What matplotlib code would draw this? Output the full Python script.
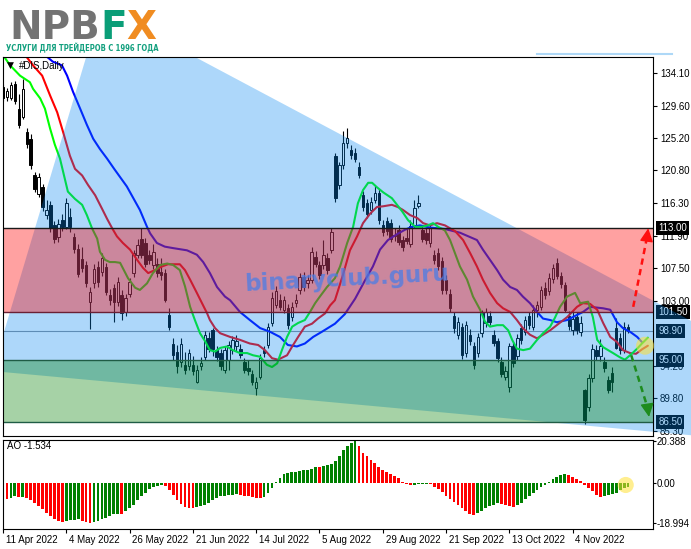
# -*- coding: utf-8 -*-
import matplotlib
matplotlib.use("Agg")
import numpy as np
import matplotlib.pyplot as plt
import matplotlib.transforms as mtransforms
from matplotlib.patches import Polygon, Rectangle
from matplotlib.lines import Line2D
from matplotlib import font_manager

# #DIS, Daily: 11 Apr 2022 .. 25 Nov 2022 (bar index 0..158)
date_ticks = [0, 16, 32, 48, 64, 80, 96, 112, 128, 144]
date_labels = ['11 Apr 2022', '4 May 2022', '26 May 2022', '21 Jun 2022',
               '14 Jul 2022', '5 Aug 2022', '29 Aug 2022', '21 Sep 2022',
               '13 Oct 2022', '4 Nov 2022']

opens = [132.1, 130.8, 130.6, 132.6, 129.2, 128.1, 126.0, 125.1, 120.1, 117.6,
         118.5, 114.7, 116.1, 113.4, 111.7, 114.0, 113.1, 114.4, 111.7, 110.1,
         108.7, 107.9, 102.9, 105.4, 107.6, 107.0, 107.6, 103.8, 104.7, 102.9,
         103.8, 101.5, 104.0, 106.8, 109.3, 111.5, 110.9, 109.2, 107.9, 108.1,
         107.0, 106.8, 101.1, 97.2, 96.1, 94.7, 94.3, 94.1, 94.3, 92.0,
         94.1, 95.4, 97.9, 99.0, 96.3, 95.9, 93.6, 95.0, 96.3, 96.8,
         96.5, 94.7, 93.9, 93.1, 91.1, 92.7, 96.3, 97.0, 100.0, 102.5,
         103.1, 101.8, 102.0, 100.8, 102.7, 104.5, 106.3, 105.4, 105.9, 109.0,
         107.9, 107.9, 108.8, 109.9, 122.7, 118.8, 121.5, 124.5, 123.6, 123.2,
         121.3, 117.4, 116.3, 115.4, 116.8, 117.7, 113.4, 113.9, 113.6, 111.8,
         112.7, 111.3, 111.6, 110.8, 113.4, 116.0, 112.7, 112.2, 110.9, 109.3,
         109.5, 108.5, 105.8, 104.0, 100.9, 98.4, 99.5, 95.9, 98.4, 96.8,
         95.9, 98.6, 100.0, 101.0, 98.4, 97.5, 94.7, 92.7, 91.3, 96.8,
         95.5, 99.3, 98.8, 100.9, 99.5, 101.8, 102.2, 104.7, 104.3, 106.0,
         108.2, 106.4, 105.2, 101.0, 99.0, 100.8, 98.8, 90.8, 88.5, 92.5,
         96.3, 95.5, 94.7, 92.2, 93.2, 99.3, 97.9, 96.3, 99.4]
highs = [132.6, 132.0, 132.9, 133.0, 131.2, 133.3, 126.6, 125.8, 120.6, 120.5,
         119.0, 116.8, 116.6, 113.9, 114.2, 114.8, 117.0, 115.6, 112.3, 110.8,
         110.3, 108.5, 104.9, 108.0, 108.4, 109.5, 108.2, 104.6, 105.3, 106.2,
         104.5, 104.0, 106.1, 110.0, 111.4, 112.9, 111.6, 110.0, 110.8, 108.8,
         108.8, 107.3, 102.1, 97.9, 97.0, 98.0, 96.0, 96.5, 95.5, 94.3,
         95.3, 98.9, 98.8, 99.3, 96.9, 96.4, 96.9, 97.6, 98.2, 98.3,
         97.2, 95.2, 94.9, 93.6, 92.6, 95.8, 96.9, 100.0, 104.2, 105.0,
         104.0, 103.7, 102.6, 102.8, 104.0, 106.8, 107.0, 106.5, 110.3, 109.8,
         108.5, 111.3, 109.5, 113.0, 123.2, 122.0, 126.1, 126.5, 124.2, 123.8,
         121.9, 118.0, 116.9, 117.2, 118.6, 118.3, 114.0, 114.5, 114.2, 113.0,
         113.3, 111.9, 113.0, 114.0, 116.8, 117.4, 113.4, 113.0, 113.5, 110.0,
         110.2, 109.0, 106.6, 104.6, 101.5, 100.8, 100.0, 100.3, 99.2, 97.4,
         98.6, 101.8, 102.0, 101.6, 99.0, 98.0, 95.3, 94.2, 97.3, 97.4,
         98.5, 99.8, 101.0, 101.5, 102.4, 103.0, 105.0, 105.6, 106.8, 108.0,
         108.8, 106.9, 105.6, 101.6, 101.8, 101.5, 101.0, 91.0, 93.0, 97.2,
         97.0, 97.8, 95.3, 92.8, 94.0, 100.7, 98.6, 100.2, 99.9]
lows = [130.2, 130.3, 130.4, 129.9, 126.5, 127.8, 123.9, 121.0, 117.8, 117.2,
        115.3, 114.2, 112.4, 110.9, 111.0, 112.5, 112.8, 112.4, 109.5, 106.2,
        107.0, 104.9, 99.2, 104.8, 104.9, 106.4, 103.8, 102.5, 100.1, 102.3,
        100.4, 100.9, 103.5, 106.3, 108.8, 108.9, 107.6, 108.0, 107.3, 106.3,
        105.9, 102.8, 99.0, 95.0, 93.2, 94.0, 93.0, 93.6, 92.9, 91.8,
        93.6, 95.0, 96.0, 95.5, 94.8, 93.6, 93.2, 93.6, 95.8, 96.2,
        95.2, 93.2, 92.9, 91.5, 90.2, 92.3, 95.3, 96.6, 99.6, 102.0,
        101.7, 101.3, 99.2, 100.3, 102.2, 104.0, 104.4, 104.8, 105.5, 107.6,
        106.0, 107.4, 106.7, 109.5, 116.5, 118.2, 121.0, 123.9, 122.4, 121.9,
        119.7, 115.3, 114.3, 114.9, 116.3, 113.5, 111.9, 112.0, 111.0, 111.2,
        110.6, 109.8, 110.8, 110.3, 113.0, 115.7, 111.0, 110.8, 110.4, 108.1,
        107.2, 104.0, 103.9, 101.5, 98.6, 97.8, 95.1, 95.4, 97.0, 93.7,
        95.3, 98.1, 99.4, 99.7, 96.8, 94.7, 92.6, 92.2, 90.6, 94.0,
        95.0, 97.2, 98.3, 99.2, 99.0, 100.8, 101.8, 103.2, 103.8, 105.5,
        106.0, 104.8, 101.5, 99.0, 98.3, 98.5, 98.2, 86.3, 88.0, 92.0,
        95.0, 94.8, 93.3, 90.5, 90.6, 96.5, 95.8, 95.9, 98.6]
closes = [130.6, 131.6, 132.4, 130.3, 127.0, 131.9, 124.4, 121.5, 118.3, 119.9,
          115.8, 115.4, 112.9, 111.5, 113.5, 113.1, 116.3, 113.1, 110.1, 106.7,
          107.5, 105.4, 104.2, 107.4, 105.6, 108.8, 104.2, 103.1, 102.9, 105.6,
          101.3, 103.4, 105.6, 109.5, 110.6, 109.3, 108.1, 108.6, 109.7, 106.8,
          106.5, 103.1, 99.5, 95.6, 94.1, 97.2, 93.6, 95.9, 93.4, 93.6,
          94.5, 98.4, 96.5, 96.5, 95.4, 94.1, 96.3, 97.0, 97.7, 97.5,
          95.6, 93.6, 93.4, 92.0, 92.0, 95.2, 95.9, 99.5, 103.4, 104.3,
          102.2, 103.1, 99.7, 102.2, 103.1, 106.3, 104.9, 105.9, 109.7, 108.1,
          106.5, 109.3, 107.2, 112.4, 117.0, 121.5, 124.5, 125.2, 122.9, 122.4,
          120.2, 115.8, 114.9, 116.5, 117.7, 114.0, 112.4, 112.6, 111.5, 112.0,
          111.1, 110.4, 111.2, 113.2, 115.6, 116.4, 111.5, 111.3, 112.9, 108.6,
          107.7, 104.5, 104.5, 102.0, 99.3, 100.2, 95.6, 99.7, 97.5, 94.3,
          98.1, 101.3, 101.5, 100.2, 97.3, 95.2, 93.1, 93.4, 96.8, 94.5,
          98.0, 97.7, 100.4, 99.7, 101.8, 102.4, 104.5, 103.8, 106.1, 107.5,
          106.4, 105.3, 101.8, 99.6, 100.5, 99.0, 100.0, 86.8, 92.5, 96.5,
          95.5, 96.8, 93.8, 90.9, 91.9, 96.6, 96.3, 99.5, 98.9]

# Alligator lines: (bar position, price)
lips_pts = [(0, 136.5), (1.8, 135.1), (4.3, 133.7), (6.8, 132.8), (7.6, 131.9),
            (9.4, 130.6), (10.6, 129.2), (11.9, 126.5), (13.1, 124.3), (14.4, 122.4),
            (15.2, 120.6), (16.4, 117.9), (18.2, 116.9), (20.0, 116.1), (21.2, 114.7),
            (22.5, 112.9), (23.8, 111.5), (24.5, 109.7), (25.8, 108.6), (27.0, 108.3),
            (28.3, 108.3), (29.6, 108.2), (31.6, 106.1), (33.4, 104.8), (34.6, 104.5),
            (36.4, 105.4), (37.9, 106.8), (39.7, 107.9), (41.5, 108.1), (43.0, 107.9),
            (44.7, 107.2), (46.0, 105.0), (47.3, 102.2), (48.5, 100.4), (49.8, 98.6),
            (51.1, 97.5), (52.3, 96.3), (53.6, 96.1), (54.9, 96.6), (56.6, 96.8),
            (58.1, 96.3), (59.9, 95.9), (61.7, 95.9), (63.2, 95.6), (65.0, 95.4),
            (66.7, 94.3), (68.0, 94.0), (69.3, 94.5), (70.5, 96.3), (71.8, 98.1),
            (73.1, 99.5), (74.6, 100.0), (76.3, 100.4), (77.6, 101.5), (78.9, 102.7),
            (80.1, 103.6), (81.9, 104.9), (83.9, 106.1), (85.2, 107.7), (87.0, 110.9),
            (88.5, 113.1), (89.7, 116.3), (91.0, 118.1), (92.3, 119.1), (93.3, 119.1),
            (94.5, 118.5), (96.1, 117.8), (98.3, 117.0), (99.6, 116.1), (100.9, 115.2),
            (102.4, 114.0), (104.2, 113.1), (105.9, 113.1), (107.4, 113.3), (108.7, 113.6),
            (110.0, 113.1), (111.7, 112.6), (113.0, 111.3), (115.5, 107.7), (117.3, 105.9),
            (118.8, 103.6), (120.6, 101.8), (121.8, 100.2), (123.1, 99.5), (124.9, 99.7),
            (126.4, 99.7), (127.7, 99.0), (128.7, 97.7), (129.9, 96.5), (131.5, 96.3),
            (133.2, 96.5), (135.0, 97.7), (136.5, 98.6), (138.3, 99.5), (139.5, 100.7),
            (140.8, 102.2), (142.6, 103.6), (144.6, 104.1), (145.9, 102.7), (147.9, 102.9),
            (149.1, 100.8), (150.2, 97.7), (151.7, 96.7), (154.2, 95.9), (156.0, 95.3),
            (157.2, 95.0), (158.5, 95.6), (160.3, 96.5), (161.5, 97.2), (163.0, 98.0)]
teeth_pts = [(5.6, 136.5), (7.6, 135.1), (9.9, 133.7), (11.9, 131.0), (13.7, 128.7),
             (15.2, 126.0), (16.9, 122.8), (18.2, 121.0), (20.0, 120.1), (21.5, 118.8),
             (23.3, 117.4), (25.0, 115.6), (26.3, 114.2), (27.6, 112.9), (28.8, 111.8),
             (30.3, 110.9), (32.1, 110.0), (33.9, 108.6), (35.4, 107.5), (36.7, 106.8),
             (38.4, 107.2), (40.2, 107.7), (41.7, 108.0), (44.7, 108.0), (46.0, 107.2),
             (47.3, 105.9), (49.0, 104.1), (50.3, 102.7), (51.6, 101.3), (52.3, 100.4),
             (53.6, 99.3), (54.9, 98.6), (57.4, 98.1), (59.9, 97.7), (62.4, 97.2),
             (64.5, 97.0), (66.2, 96.3), (68.0, 95.2), (69.5, 95.0), (71.8, 95.6),
             (73.1, 96.8), (74.6, 98.1), (76.3, 99.5), (78.1, 99.9), (79.6, 100.6),
             (81.4, 101.3), (82.7, 102.4), (83.9, 103.1), (85.9, 106.5), (87.7, 109.9),
             (89.5, 111.8), (91.0, 113.6), (92.8, 114.9), (94.5, 115.8), (96.1, 115.9),
             (98.3, 116.1), (99.8, 115.8), (101.1, 115.4), (102.9, 114.7), (104.7, 114.3),
             (106.2, 113.6), (107.9, 113.3), (109.7, 113.6), (111.7, 113.3), (114.3, 112.5),
             (116.3, 111.3), (118.1, 109.5), (119.8, 107.7), (121.3, 105.9), (123.1, 104.1),
             (124.9, 102.7), (126.4, 102.0), (128.2, 101.5), (129.9, 100.4), (131.4, 99.3),
             (133.2, 98.4), (135.0, 97.9), (136.5, 98.4), (138.3, 99.0), (139.5, 99.5),
             (142.6, 100.8), (145.1, 102.2), (146.6, 102.7), (148.4, 102.6), (150.2, 101.8),
             (151.7, 100.0), (153.5, 98.1), (155.2, 97.4), (156.7, 96.3), (158.5, 95.9),
             (160.0, 95.8), (161.5, 96.4), (163.0, 96.9)]
jaw_pts = [(10.6, 136.5), (12.6, 135.6), (14.9, 135.1), (16.2, 133.7), (17.7, 131.5),
           (19.5, 129.2), (21.2, 127.0), (22.8, 125.1), (24.5, 123.7), (26.3, 122.4),
           (28.1, 121.0), (31.3, 118.6), (34.6, 115.4), (36.4, 113.1), (37.2, 112.2),
           (38.9, 110.9), (40.9, 110.4), (43.0, 110.2), (46.5, 109.9), (49.0, 109.3),
           (50.6, 108.3), (52.3, 106.8), (54.1, 104.9), (56.1, 103.6), (57.4, 103.1),
           (59.9, 101.5), (62.4, 100.4), (65.0, 99.3), (67.5, 98.8), (70.0, 98.1),
           (72.0, 97.0), (74.3, 96.8), (76.3, 97.2), (78.4, 98.1), (80.6, 98.8),
           (82.7, 99.5), (83.9, 99.9), (86.4, 101.2), (89.0, 103.3), (91.5, 105.8),
           (93.5, 107.7), (95.3, 110.0), (97.3, 111.3), (99.6, 112.1), (101.6, 112.7),
           (103.4, 113.1), (105.4, 113.3), (107.9, 113.0), (111.7, 112.8), (115.5, 112.3),
           (119.8, 111.3), (121.3, 110.0), (123.1, 108.6), (124.9, 107.2), (126.4, 105.9),
           (128.2, 104.9), (129.9, 104.5), (131.4, 103.6), (133.2, 102.7), (135.0, 101.5),
           (136.5, 100.6), (138.3, 100.4), (140.0, 100.1), (142.6, 100.4), (145.1, 101.1),
           (146.6, 101.5), (148.4, 102.2), (151.7, 102.0), (153.5, 101.8), (155.2, 100.1),
           (156.7, 99.3), (158.5, 98.8), (160.3, 98.1), (161.5, 97.4)]

# Awesome Oscillator values
ao_values = [-7.3, -7.6, -7.0, -6.3, -6.6, -6.4, -7.0, -8.1, -9.4, -10.9,
             -12.5, -14.1, -15.6, -17.0, -17.9, -18.3, -17.9, -17.6, -17.5, -17.3,
             -18.1, -18.6, -18.994, -18.7, -18.1, -17.2, -16.4, -15.6, -14.8, -14.5,
             -14.6, -13.3, -11.7, -10.2, -8.1, -6.25, -4.7, -2.8, -1.6, -1.1,
             -0.8, -1.1, -3.1, -5.5, -7.8, -9.7, -11.25, -11.7, -11.8, -11.3,
             -11.0, -10.3, -9.4, -8.1, -7.0, -6.25, -5.9, -5.5, -5.4, -5.2,
             -5.5, -5.9, -6.3, -6.7, -7.0, -7.1, -6.5, -4.7, -2.3, 0.8,
             2.3, 4.4, 5.0, 5.4, 5.5, 5.8, 6.2, 6.6, 7.0, 7.8,
             7.6, 8.3, 8.6, 9.1, 10.9, 13.3, 15.8, 18.0, 19.5, 20.388,
             17.8, 14.6, 13.0, 11.2, 9.5, 7.9, 6.6, 5.6, 4.6, 3.6,
             2.4, 0.8, -0.4, -0.9, -0.6, -0.4, -0.3, -0.2, -0.5, -1.6,
             -2.8, -4.4, -6.0, -7.5, -9.0, -10.5, -12.0, -13.4, -14.5, -15.0,
             -14.4, -13.2, -12.0, -11.0, -10.2, -9.6, -9.9, -10.4, -11.0, -11.4,
             -10.5, -9.2, -7.7, -6.1, -4.6, -3.3, -2.0, -0.9, 0.7, 1.9,
             3.1, 4.0, 4.4, 4.0, 3.1, 2.2, 1.0, -0.8, -2.3, -3.9,
             -5.4, -6.6, -6.1, -5.4, -5.1, -4.7, -3.4, -2.4, -1.534]

price_ticks = [134.10, 129.60, 125.20, 120.80, 116.30, 111.90, 107.50, 103.00,
               94.20, 89.80, 85.30]
ao_ticks = [20.388, 0.0, -18.994]
ao_tick_labels = ['20.388', '0.00', '-18.994']
levels = [113.00, 101.50, 95.00, 86.50]
bid_price = 98.90

# drawing objects (bar position, price)
blue_triangle = [(24.8, 143.05), (-2.7, 93.45), (239.6, 81.45)]
up_arrow = [(159.3, 102.2), (163.1, 112.9)]
down_arrow = [(158.8, 95.6), (163.3, 87.2)]


def has_font(name):
    try:
        font_manager.findfont(font_manager.FontProperties(family=name),
                              fallback_to_default=False)
        return True
    except ValueError:
        return False


plt.rcParams['font.family'] = ['Liberation Sans', 'DejaVu Sans']

W, H = 691, 549
fig = plt.figure(figsize=(W / 100., H / 100.), dpi=100)
fig.patch.set_facecolor('white')

ax = fig.add_axes([3. / W, 113. / H, 650. / W, 379. / H])
ax2 = fig.add_axes([3. / W, 20. / H, 650. / W, 89. / H])

o = np.array(opens)
h = np.array(highs)
l = np.array(lows)
c = np.array(closes)
x = np.arange(len(c))
up = c >= o

# candles
ax.vlines(x, l, h, color='black', lw=0.8, zorder=3)
body = np.maximum(np.abs(c - o), 0.1)
ax.bar(x[up], body[up], bottom=o[up], width=0.62, color='white',
       edgecolor='black', lw=0.7, zorder=3.1)
ax.bar(x[~up], body[~up], bottom=c[~up], width=0.62, color='black',
       edgecolor='black', lw=0.7, zorder=3.1)

# alligator
for pts, col in [(jaw_pts, '#0000FF'), (teeth_pts, '#FF0000'), (lips_pts, '#00FF00')]:
    px, py = zip(*pts)
    ax.plot(px, py, color=col, lw=1.5, zorder=4, solid_capstyle='round')

# bid line
ax.axhline(bid_price, color='#8A8F99', lw=0.8, zorder=2)

# zones (semi transparent, drawn over the price)
tri = Polygon(blue_triangle, closed=True, facecolor=(6 / 255., 136 / 255., 240 / 255.),
              alpha=0.33, lw=0, zorder=5)
ax.add_patch(tri)
tri.set_clip_path(Rectangle((0, 0), 1.07, 1.0, transform=ax.transAxes))
ax.axhspan(levels[1], levels[0], color='#FF0000', alpha=0.37, lw=0, zorder=5.1)
ax.axhspan(levels[3], levels[2], color='#008000', alpha=0.35, lw=0, zorder=5.1)
for lev, col in zip(levels, ['#1a1a1a', '#6a2035', '#1f5c45', '#1f5c45']):
    ax.axhline(lev, color=col, lw=1.0, zorder=7)

# watermark
ax.text(87.0, 106.0, 'binaryclub.guru', rotation=3, fontsize=16.5, fontweight='bold',
        family='DejaVu Sans', color='#4A7DE6', alpha=0.75, ha='center', va='center',
        zorder=8)

# arrows
ax.plot([up_arrow[0][0], up_arrow[1][0] - 0.35], [up_arrow[0][1], up_arrow[1][1] - 1.3],
        color='#FF1010', lw=1.8, ls=(0, (2.5, 1.8)), zorder=9, clip_on=False)
ax.annotate('', xy=up_arrow[1], xytext=(up_arrow[1][0] - 0.4, up_arrow[1][1] - 1.6),
            arrowprops=dict(arrowstyle='-|>,head_length=0.9,head_width=0.45',
                            color='#FF1010', lw=1, shrinkA=0, shrinkB=0,
                            mutation_scale=9), zorder=9, annotation_clip=False)
ax.plot([down_arrow[0][0], down_arrow[1][0] - 0.4], [down_arrow[0][1], down_arrow[1][1] + 1.3],
        color='#1E8C1E', lw=1.8, ls=(0, (2.5, 1.8)), zorder=9, clip_on=False)
ax.annotate('', xy=down_arrow[1], xytext=(down_arrow[1][0] - 0.45, down_arrow[1][1] + 1.6),
            arrowprops=dict(arrowstyle='-|>,head_length=0.9,head_width=0.45',
                            color='#1E8C1E', lw=1, shrinkA=0, shrinkB=0,
                            mutation_scale=9), zorder=9, annotation_clip=False)

# highlight circle
ax.scatter([162.3], [96.9], s=168, color='#FFE135', alpha=0.55, edgecolors='none',
           zorder=9, clip_on=False)

ax.set_xlim(0, 164.3)
ax.set_ylim(84.60, 136.24)
ax.set_xticks([])
ax.yaxis.tick_right()
ax.set_yticks(price_ticks)
ax.set_yticklabels(['%.2f' % v for v in price_ticks])
ax.tick_params(axis='y', direction='out', length=3, width=0.8, pad=2, labelsize=7)

# price markers on the scale
btrans = mtransforms.blended_transform_factory(ax.transAxes, ax.transData)
for v in levels + [bid_price]:
    ax.text(1.008, v, '%.2f' % v, transform=btrans, ha='left', va='center',
            fontsize=7, color='white', zorder=4,
            bbox=dict(boxstyle='square,pad=0.2', fc='black', ec='none'))

ax.text(0.011, 0.978, '\u25bc', transform=ax.transAxes, fontsize=6.5, ha='center',
        va='center', family=['DejaVu Sans'], zorder=9)
ax.text(0.024, 0.976, '#DIS,Daily', transform=ax.transAxes, fontsize=7,
        ha='left', va='center', zorder=9)

# AO panel
ao = np.array(ao_values)
ao_col = ['#FF0000'] + ['#008000' if ao[i] > ao[i - 1] else '#FF0000'
                        for i in range(1, len(ao))]
ax2.bar(np.arange(len(ao)), ao, width=0.7, color=ao_col, lw=0, zorder=3)
ax2.scatter([157.4], [-0.8], s=135, color='#FFE135', alpha=0.55, edgecolors='none',
            zorder=9, clip_on=False)
ax2.set_xlim(0, 164.3)
ax2.set_ylim(-21.87, 20.72)
ax2.yaxis.tick_right()
ax2.set_yticks(ao_ticks)
ax2.set_yticklabels(ao_tick_labels)
ax2.tick_params(axis='y', direction='out', length=2, width=0.8, pad=0.7, labelsize=7)
ax2.set_xticks(date_ticks)
ax2.set_xticklabels(date_labels)
ax2.tick_params(axis='x', direction='out', length=3, width=0.8, pad=1, labelsize=7)
offset = mtransforms.ScaledTranslation(2 / 72., 0, fig.dpi_scale_trans)
for lbl in ax2.get_xticklabels():
    lbl.set_horizontalalignment('left')
    lbl.set_transform(lbl.get_transform() + offset)
ax2.text(0.006, 0.93, 'AO -1.534', transform=ax2.transAxes, fontsize=7,
         ha='left', va='center')

for a in (ax, ax2):
    for sp in a.spines.values():
        sp.set_color('black')
        sp.set_linewidth(0.8)
        sp.set_zorder(7)

# thin line above the chart, top right
fig.add_artist(Line2D([537. / W, 672. / W], [1 - 54. / H, 1 - 54. / H],
                      color='#AED8F7', lw=1.5))

# logo
renderer = fig.canvas.get_renderer()
base_y = 1 - 39.0 / H
t1 = fig.text(9. / W, base_y, 'NPB', fontsize=28, fontweight='bold',
              family='DejaVu Sans', color='#737373', ha='left', va='baseline')
bb = t1.get_window_extent(renderer)
t2 = fig.text((bb.x1 + 1) / W, base_y, 'F', fontsize=28, fontweight='bold',
              family='DejaVu Sans', color='#0A9E78', ha='left', va='baseline')
bb = t2.get_window_extent(renderer)
t3 = fig.text((bb.x1 - 1) / W, base_y, 'X', fontsize=28, fontweight='bold',
              family='DejaVu Sans', color='#F08C21', ha='left', va='baseline')

if has_font('Liberation Sans Narrow'):
    sub_kw = dict(family=['Liberation Sans Narrow', 'DejaVu Sans'])
else:
    sub_kw = dict(family=['DejaVu Sans'], fontstretch='condensed')
t4 = fig.text(6. / W, 1 - 51.5 / H, 'УСЛУГИ ДЛЯ ТРЕЙДЕРОВ С 1996 ГОДА', fontsize=7,
              fontweight='bold', color='#13A07F', ha='left', va='baseline', **sub_kw)
w = t4.get_window_extent(renderer).width
t4.set_fontsize(7 * 153. / w)

fig.savefig('out.png', dpi=100)
plt.close(fig)
